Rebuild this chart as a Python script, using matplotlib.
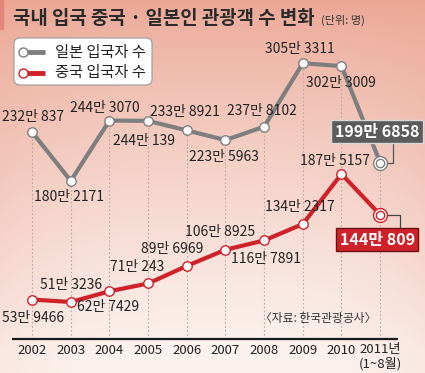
import numpy as np
import matplotlib
matplotlib.use("Agg")
import matplotlib.pyplot as plt
from matplotlib.patches import FancyBboxPatch, Rectangle

# ---------------- data ----------------
years = [2002, 2003, 2004, 2005, 2006, 2007, 2008, 2009, 2010, 2011]
year_labels = ["2002", "2003", "2004", "2005", "2006", "2007", "2008", "2009", "2010", "2011년\n(1~8월)"]
japan = [232.0837, 180.2171, 244.3070, 244.0139, 233.8921, 223.5963, 237.8102, 305.3311, 302.3009, 199.6858]
china = [53.9466, 51.3236, 62.7429, 71.0243, 89.6969, 106.8925, 116.7891, 134.2317, 187.5157, 144.0809]
japan_text = ["232만 837", "180만 2171", "244만 3070", "244만 139", "233만 8921",
              "223만 5963", "237만 8102", "305만 3311", "302만 3009", "199만 6858"]
china_text = ["53만 9466", "51만 3236", "62만 7429", "71만 243", "89만 6969",
              "106만 8925", "116만 7891", "134만 2317", "187만 5157", "144만 809"]
series_names = ["일본 입국자 수", "중국 입국자 수"]
title = "국내 입국 중국 · 일본인 관광객 수 변화"
unit = "(단위: 명)"
source = "〈자료: 한국관광공사〉"

# label offsets in pixels (dx right, dy up)
japan_off = [(1, 15), (-2, -16), (-5, 13), (-4, -20), (-2, 18), (-2, -17), (-2, 16), (-3, 14), (-1, -17)]
china_off = [(1, -18), (0, 17), (-1, -16), (-11, 16), (-15, 17), (-5, 18), (2, -19), (-3, 17), (-7, 13)]

W, H = 425, 373
fig = plt.figure(figsize=(W / 100, H / 100), dpi=100)
ax = fig.add_axes([0, 0, 1, 1])
XL = (2001.17, 2012.16)
YL = (-24.2, 372.6)
ax.set_xlim(*XL)
ax.set_ylim(*YL)
ax.axis("off")

px_x = (XL[1] - XL[0]) / W
px_y = (YL[1] - YL[0]) / H

GRAY = "#7e7e7e"
RED = "#cf2129"
NUM = ["Liberation Sans Narrow", "Noto Sans CJK KR"]
KR = ["Noto Sans CJK KR", "DejaVu Sans"]

# ---------------- background gradient ----------------
ny, nx = 200, 200
yy = np.linspace(0, 1, ny)[:, None]
xx = np.linspace(0, 1, nx)[None, :]
top = np.array([235, 166, 148]) / 255
bot = np.array([252, 243, 239]) / 255
t = np.clip(yy / 0.95, 0, 1) ** 0.75
base = top * (1 - t)[..., None] + bot * t[..., None]
edge = (np.abs(xx - 0.5) * 2) ** 3
edge = edge * (1 - 0.6 * yy)
img = base * (1 - 0.35 * edge[..., None]) + top * (0.35 * edge[..., None])
img = np.broadcast_to(img, (ny, nx, 3))
ax.imshow(img, extent=[XL[0], XL[1], YL[0], YL[1]], aspect="auto", zorder=0, origin="upper")

# red accent bar at title
fig.patches.append(Rectangle((0, 1 - 29 / H), 3 / W, 29 / H, transform=fig.transFigure,
                             color="#e3867a", zorder=1))

# ---------------- axis baseline + guide lines ----------------
base_val = YL[1] - 339 * px_y
ax.plot([XL[0] + 12 * px_x, XL[0] + 398 * px_x], [base_val, base_val], color="#1a1a1a", lw=1.6, zorder=3,
        solid_capstyle="butt")
for x, jv in zip(years, japan):
    ax.plot([x, x], [base_val, jv], color="#b9aaa4", lw=0.8, ls=(0, (1.5, 2)), zorder=1)

for x, lab in zip(years, year_labels):
    if "\n" in lab:
        a, b = lab.split("\n")
        ax.text(x, base_val - 11 * px_y, a, ha="center", va="center", fontsize=9.5, family=NUM, color="#222")
        ax.text(x, base_val - 25 * px_y, b, ha="center", va="center", fontsize=9.5, family=NUM, color="#222")
    else:
        ax.text(x, base_val - 11 * px_y, lab, ha="center", va="center", fontsize=9.5, family=NUM, color="#222")

# ---------------- lines ----------------
ax.plot(years, japan, color=GRAY, lw=3.0, zorder=4, solid_joinstyle="round")
ax.plot(years, china, color=RED, lw=3.0, zorder=4, solid_joinstyle="round")
ax.plot(years[:-1], japan[:-1], ls="none", marker="o", ms=6.8, mfc="white", mec=GRAY, mew=1.0, zorder=5)
ax.plot(years[:-1], china[:-1], ls="none", marker="o", ms=6.8, mfc="white", mec=RED, mew=1.0, zorder=5)
for vals, c in ((japan, GRAY), (china, RED)):
    ax.plot(years[-1], vals[-1], marker="o", ms=10, mfc="white", mec=c, mew=1.0, zorder=5)
    ax.plot(years[-1], vals[-1], marker="o", ms=6, mfc="white", mec=c, mew=1.0, zorder=6)

# ---------------- value labels ----------------
for x, v, s, (dx, dy) in zip(years[:-1], japan[:-1], japan_text[:-1], japan_off):
    ax.text(x + dx * px_x, v + dy * px_y, s, ha="center", va="center", fontsize=10, family=NUM, color="#222", zorder=7)
for x, v, s, (dx, dy) in zip(years[:-1], china[:-1], china_text[:-1], china_off):
    ax.text(x + dx * px_x, v + dy * px_y, s, ha="center", va="center", fontsize=10, family=NUM, color="#222", zorder=7)

# ---------------- callouts for 2011 ----------------
def callout(x, v, text, fc, ec, box_dx, box_dy, elbow_dx, box_edge_dy):
    ex = x + elbow_dx * px_x
    ax.plot([x + 6 * px_x, ex, ex], [v, v, v + box_edge_dy * px_y], color="#555" if fc != RED else "#444",
            lw=0.9, zorder=4)
    ax.text(x + box_dx * px_x, v + box_dy * px_y, text, ha="center", va="center", fontsize=11.5,
            family=NUM, weight="bold", color="white", zorder=8,
            bbox=dict(boxstyle="square,pad=0.22", fc=fc, ec=ec, lw=1.0))

callout(years[-1], japan[-1], japan_text[-1], "#5b5b5b", "#d8d8d8", -3, 31, 13, 20)
callout(years[-1], china[-1], china_text[-1], RED, "#6e1010", -3, -25, 20, -14)

# ---------------- legend ----------------
fig.patches.append(FancyBboxPatch((14 / W, 1 - 85 / H), 138 / W, 47 / H, boxstyle="round,pad=0,rounding_size=0.015",
                                  transform=fig.transFigure, fc="white", ec="#9a9a9a", lw=0.8, zorder=2))
for i, (name, c) in enumerate(zip(series_names, (GRAY, RED))):
    yc = 1 - (52 + 21 * i) / H
    fig.add_artist(plt.Line2D([26 / W, 45 / W], [yc, yc], transform=fig.transFigure, color=c, lw=3.5,
                              solid_capstyle="butt", zorder=3))
    fig.add_artist(plt.Line2D([23 / W], [yc], transform=fig.transFigure, marker="o", ms=6.5, mfc="white",
                              mec=c, mew=1.0, zorder=4))
    fig.text(55 / W, yc, name, ha="left", va="center", fontsize=11, family=KR, color="#222", zorder=5)

# ---------------- titles ----------------
fig.text(13 / W, 1 - 18 / H, title, ha="left", va="center", fontsize=13.6, weight="bold", family=KR, color="#2a2a2a")
fig.text(321 / W, 1 - 20 / H, unit, ha="left", va="center", fontsize=8, family=KR, color="#333")
ax.text(XL[0] + 318 * px_x, YL[1] - 318 * px_y, source, ha="center", va="center", fontsize=8.5,
        family=KR, color="#333", zorder=7)

fig.savefig("out.png", dpi=100)
